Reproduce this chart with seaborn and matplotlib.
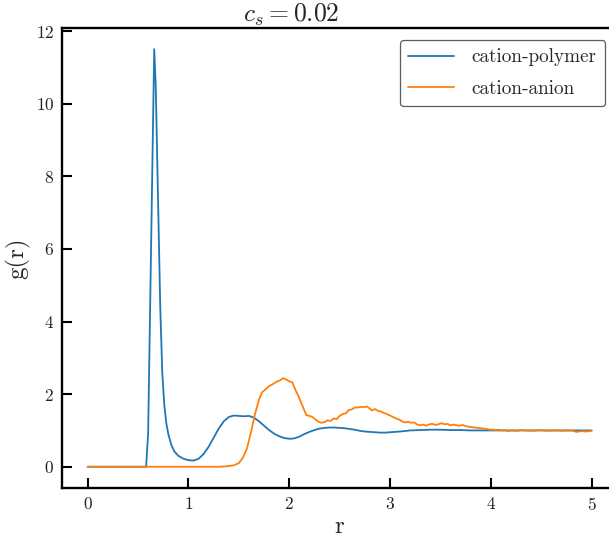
import numpy as np
import pandas as pd
import matplotlib
matplotlib.use("Agg")
import matplotlib.pyplot as plt
import seaborn as sns

title = r"$c_s = 0.02$"
xlabel = "r"
ylabel = "g(r)"
label_cp = "cation-polymer"
label_ca = "cation-anion"

r_cp = [0.0, 0.55, 0.58, 0.60, 0.66, 0.675, 0.70, 0.72, 0.74, 0.76, 0.78, 0.80, 0.83, 0.86,
        0.90, 0.95, 1.00, 1.05, 1.10, 1.15, 1.20, 1.25, 1.30, 1.35, 1.40, 1.45, 1.50, 1.55,
        1.60, 1.65, 1.70, 1.75, 1.80, 1.85, 1.90, 1.95, 2.00, 2.05, 2.10, 2.15, 2.20, 2.25,
        2.30, 2.35, 2.40, 2.45, 2.50, 2.55, 2.60, 2.65, 2.70, 2.75, 2.80, 2.85, 2.90, 2.95,
        3.00, 3.10, 3.20, 3.30, 3.40, 3.50, 3.60, 3.70, 3.80, 4.00, 4.20, 4.50, 5.00]
g_cp = [0.0, 0.0, 0.0, 0.95, 11.5, 10.5, 7.1, 4.4, 2.6, 1.7, 1.2, 0.9, 0.6, 0.42,
        0.3, 0.22, 0.18, 0.17, 0.22, 0.35, 0.55, 0.8, 1.05, 1.25, 1.37, 1.41, 1.40, 1.39,
        1.40, 1.35, 1.25, 1.13, 1.01, 0.91, 0.84, 0.79, 0.77, 0.78, 0.83, 0.90, 0.96, 1.01,
        1.05, 1.07, 1.08, 1.08, 1.07, 1.06, 1.04, 1.02, 0.99, 0.97, 0.96, 0.95, 0.94, 0.94,
        0.95, 0.97, 1.00, 1.01, 1.02, 1.02, 1.01, 1.01, 1.00, 1.00, 1.00, 1.00, 1.00]

r_ca = [0.0, 1.30, 1.375, 1.45, 1.50, 1.54, 1.58, 1.62, 1.66, 1.70, 1.73, 1.76, 1.80, 1.84,
        1.88, 1.91, 1.94, 1.97, 2.00, 2.03, 2.06, 2.09, 2.12, 2.15, 2.17, 2.20, 2.23, 2.26,
        2.29, 2.32, 2.35, 2.38, 2.41, 2.44, 2.47, 2.50, 2.53, 2.56, 2.59, 2.62, 2.65, 2.68,
        2.71, 2.74, 2.77, 2.80, 2.82, 2.85, 2.88, 2.91, 2.94, 2.97, 3.00, 3.03, 3.06, 3.09,
        3.12, 3.15, 3.18, 3.21, 3.24, 3.27, 3.30, 3.33, 3.36, 3.39, 3.42, 3.45, 3.48, 3.51,
        3.54, 3.57, 3.60, 3.63, 3.66, 3.69, 3.72, 3.75, 3.78, 3.81, 3.84, 3.87, 3.90, 3.93,
        3.96, 3.99, 4.02, 4.05, 4.08, 4.11, 4.14, 4.17, 4.20, 4.25, 4.30, 4.35, 4.40, 4.45,
        4.50, 4.55, 4.60, 4.65, 4.70, 4.75, 4.80, 4.85, 4.90, 4.95, 5.00]
g_ca = [0.0, 0.0, 0.01, 0.04, 0.10, 0.25, 0.5, 0.95, 1.45, 1.85, 2.05, 2.12, 2.22, 2.28,
        2.35, 2.38, 2.44, 2.40, 2.35, 2.33, 2.12, 1.95, 1.75, 1.55, 1.42, 1.40, 1.37, 1.30,
        1.24, 1.21, 1.23, 1.28, 1.26, 1.33, 1.31, 1.40, 1.45, 1.47, 1.56, 1.58, 1.63, 1.63,
        1.65, 1.64, 1.66, 1.60, 1.55, 1.59, 1.54, 1.52, 1.48, 1.45, 1.41, 1.37, 1.33, 1.30,
        1.25, 1.22, 1.24, 1.21, 1.22, 1.16, 1.14, 1.16, 1.13, 1.17, 1.18, 1.15, 1.17, 1.20,
        1.17, 1.18, 1.14, 1.16, 1.14, 1.13, 1.15, 1.12, 1.10, 1.09, 1.08, 1.07, 1.06, 1.05,
        1.04, 1.02, 1.02, 1.01, 1.02, 1.00, 1.01, 0.98, 1.00, 0.99, 1.01, 1.00, 0.99, 1.00,
        1.01, 0.99, 1.00, 1.00, 0.99, 1.00, 1.00, 0.96, 0.98, 0.97, 0.99]

sns.set_style("ticks")
plt.rcParams.update({
    "font.family": "serif",
    "font.serif": ["cmr10", "DejaVu Serif"],
    "mathtext.fontset": "cm",
    "axes.unicode_minus": False,
    "axes.formatter.use_mathtext": True,
})

df_cp = pd.DataFrame({"r": r_cp, "g": g_cp})
df_ca = pd.DataFrame({"r": r_ca, "g": g_ca})

fig = plt.figure(figsize=(6.09, 5.40), dpi=100)
ax = fig.add_axes([0.1026, 0.0970, 0.9103, 0.8506])

sns.lineplot(data=df_cp, x="r", y="g", ax=ax, color="#1f77b4", lw=1.3, label=label_cp)
sns.lineplot(data=df_ca, x="r", y="g", ax=ax, color="#ff7f0e", lw=1.3, label=label_ca)

ax.set_xlim(-0.25, 5.25)
ax.set_ylim(-0.575, 12.075)
ax.set_xticks([0, 1, 2, 3, 4, 5])
ax.set_yticks([0, 2, 4, 6, 8, 10, 12])

for s in ax.spines.values():
    s.set_linewidth(1.7)
    s.set_color("black")
ax.tick_params(direction="in", length=7, width=1.5, labelsize=12.5, labelcolor="#222222",
               colors="black", top=False, right=False, pad=6)

ax.set_xlabel(xlabel, fontsize=18, labelpad=2)
ax.set_ylabel(ylabel, fontsize=18)
ax.set_title(title, fontsize=18.5, pad=2, x=0.412)

leg = ax.legend(loc="upper right", fontsize=13.8, frameon=True, fancybox=True,
                handlelength=2.4, handletextpad=0.9, labelspacing=0.7,
                borderpad=0.45, borderaxespad=0.6)
leg.get_frame().set_edgecolor("#333333")
leg.get_frame().set_linewidth(0.9)

fig.savefig("out.png", dpi=100)
